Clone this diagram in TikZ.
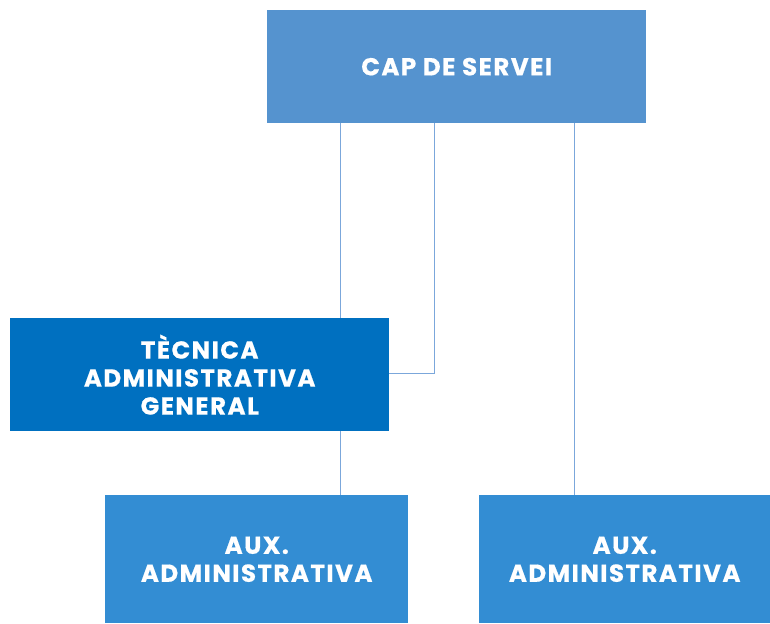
\documentclass[tikz,border=0pt]{standalone}
\usepackage{fontspec}
\setmainfont{Poppins}[BoldFont={* Bold},BoldFeatures={LetterSpace=6,FakeBold=0.6}]
\definecolor{topc}{HTML}{5593CF}
\definecolor{midc}{HTML}{0070C0}
\definecolor{lowc}{HTML}{338DD3}
\definecolor{linec}{HTML}{7BA7DB}
\begin{document}
\begin{tikzpicture}[x=1pt,y=-1pt,
  box/.style={fill=#1,draw=none,text=white,align=center,inner sep=0pt,
    font=\fontsize{24.5}{28}\selectfont\bfseries},
  conn/.style={draw=linec,line width=1pt}]
\useasboundingbox (0,0) rectangle (770,623);
\node[box=topc,minimum width=379pt,minimum height=113pt,anchor=north west] (cap) at (267,10) {\raisebox{-2pt}{CAP DE SERVEI}};
\node[box=midc,minimum width=379pt,minimum height=113pt,anchor=north west] (tec) at (10,318) {TÈCNICA\\ADMINISTRATIVA\\GENERAL};
\node[box=lowc,minimum width=303pt,minimum height=128pt,anchor=north west,text depth=-2pt] (aux1) at (105,495) {AUX.\\ADMINISTRATIVA};
\node[box=lowc,minimum width=291pt,minimum height=128pt,anchor=north west,text depth=-2pt] (aux2) at (479,495) {AUX.\\ADMINISTRATIVA};
\draw[conn] (cap.south -| 340,0) -- (tec.north -| 340,0);
\draw[conn] (tec.south -| 340,0) -- (aux1.north -| 340,0);
\draw[conn] (cap.south -| 434,0) |- (tec.east |- 0,373);
\draw[conn] (cap.south -| 574,0) -- (aux2.north -| 574,0);
\end{tikzpicture}
\end{document}
